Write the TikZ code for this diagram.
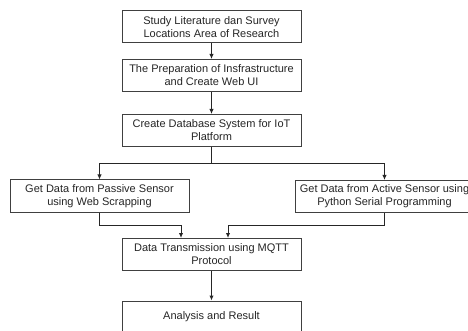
\documentclass[tikz,border=0pt]{standalone}
\usepackage{fontspec}
\setmainfont{Liberation Sans}
\usetikzlibrary{arrows.meta}
\begin{document}
\begin{tikzpicture}[x=1pt, y=-1pt,
        rect/.style={rectangle, draw=black!75, line width=1pt, fill=white, minimum width=179pt, minimum height=32pt, inner sep=1pt, align=center, text=black!85, font=\fontsize{11}{13}\selectfont},
        arr/.style={draw=black!85, line width=1pt, -{Latex[length=5pt,width=4.5pt]}}
    ]
    \clip (0,0) rectangle (468,331);
    \useasboundingbox (0,0) rectangle (468,331);
    \node[rect] (study) at (211.5,27) {Study Literature dan Survey\\Locations Area of Research};
    \node[rect] (prep) at (211.5,75.5) {The Preparation of Insfrastructure\\and Create Web UI};
    \node[rect] (db) at (211.5,130.5) {Create Database System for IoT\\Platform};
    \node[rect] (passive) at (99.5,196) {Get Data from Passive Sensor\\using Web Scrapping};
    \node[rect] (active) at (384.5,196.5) {Get Data from Active Sensor using\\Python Serial Programming};
    \node[rect] (mqtt) at (211.5,254.5) {Data Transmission using MQTT\\Protocol};
    \node[rect] (result) at (211.5,317) {Analysis and Result};

    \coordinate (split) at (211.5,164);
    \coordinate (inL) at (181,225);
    \coordinate (inR) at (228,225);

    \draw[arr] (study) -- (prep);
    \draw[arr] (prep) -- (db);
    \draw[draw=black!85, line width=1pt] (db) -- (split);
    \draw[arr] (split) -| (passive);
    \draw[arr] (split) -| (active);
    \draw[arr] (passive) |- (inL) -- (inL |- mqtt.north);
    \draw[arr] (active) |- (inR) -- (inR |- mqtt.north);
    \draw[arr] (mqtt) -- (result);
\end{tikzpicture}
\end{document}
